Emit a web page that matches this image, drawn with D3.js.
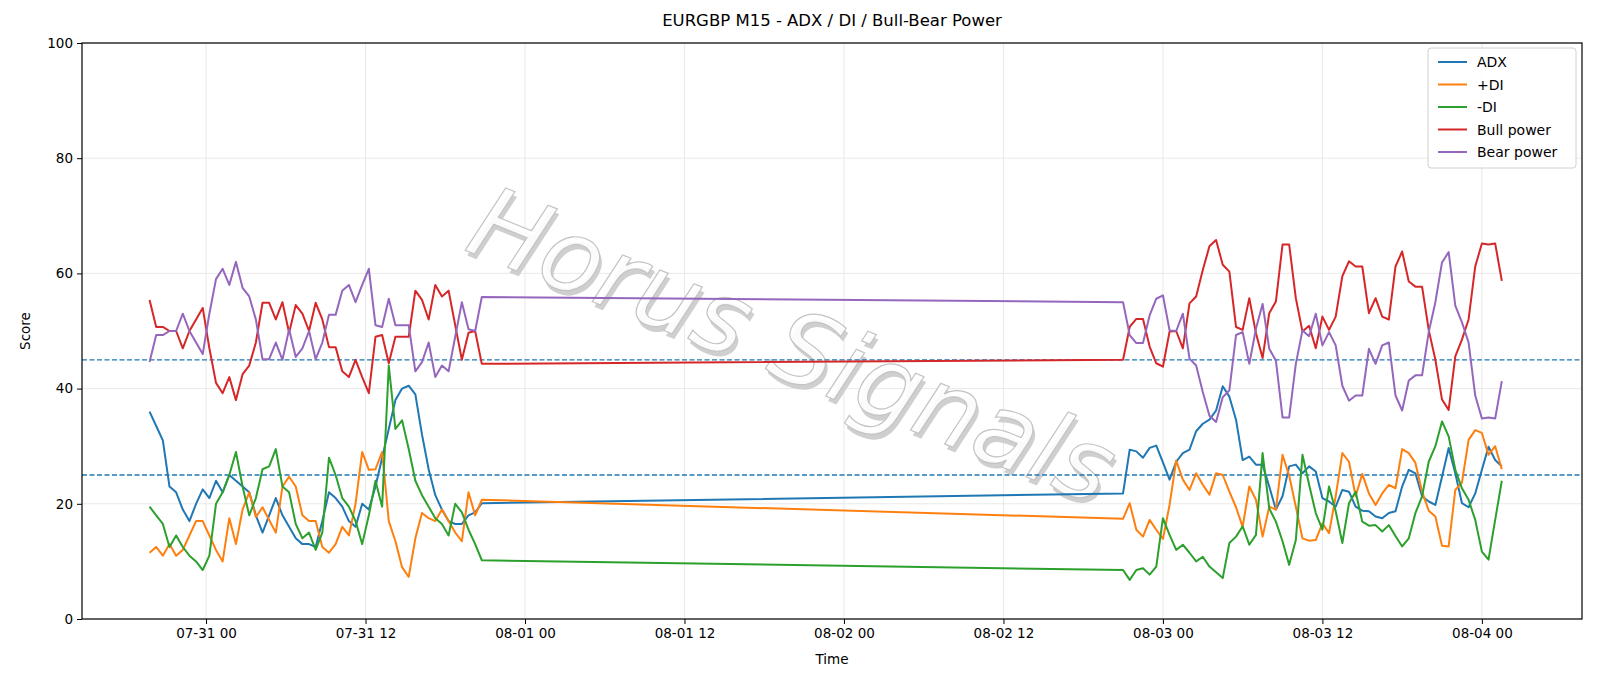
<!DOCTYPE html>
<html><head><meta charset="utf-8">
<script src="https://cdn.jsdelivr.net/npm/d3@7"></script>
<style>body{margin:0;background:#fff}svg{font-family:"DejaVu Sans",sans-serif}</style>
</head><body>
<svg id="c" width="1600" height="686"></svg>
<script>
const seriesNames = ["ADX","+DI","-DI","Bull power","Bear power"];
const colors = ["#1f77b4","#ff7f0e","#2ca02c","#d62728","#9467bd"];
const seg1Start = "2025-07-30T19:45:00Z";
const seg2Start = "2025-08-02T21:00:00Z";
const stepMinutes = 30;
const yTicks = [0,20,40,60,80,100];
const xTickLabels = ["07-31 00","07-31 12","08-01 00","08-01 12","08-02 00","08-02 12","08-03 00","08-03 12","08-04 00"];
const thresholds = [45,25];

const adx1 = [36,33.5,31,23,22,19,17,20,22.5,21,24,22,25,24,23,22,18,15,18,21,18,16,14,13,13,12.5,17,22,21,19.5,17,16,20,19,23,28,33,38,40,40.5,39,32,26,21.5,19,17,16.5,16.5,18,18.5,20.1];
const pdi1 = [11.5,12.5,11,13,11,12,14.5,17,17,14.5,12,10,17.5,13,19,22,17.7,19.4,17.2,15,23,24.7,23,18,17,17,12.5,11.5,13,16,14.5,20,29,25.9,26,29,17,13.5,9,7.3,14,18.4,17.5,17,19,17,15,13.5,22,18,20.7];
const mdi1 = [19.5,18,16.5,12.5,14.5,12.5,11,10,8.5,11,20,22,25,29,23,18,21,26,26.5,29.5,23,22,16.5,14,15,12,15,28,25,21,19.5,17,13,18,24,19.5,44,33,34.5,29.5,24,21.5,19.5,17.5,16.5,14.5,20,18.5,15.5,13,10.2];
const bull1 = [55.4,50.7,50.7,50,50,47,50,52,54,47,41,39.2,42,38,42.5,44,48,54.9,54.9,52,55,49.7,54.5,53,50,54.9,52,47.2,47.2,43,42,45,42,39.2,49,49.3,44.4,49,49,49,57,55.4,52,58,56,57,51,45,49.7,50,44.3];
const bear1 = [44.6,49.3,49.3,50,50,53,50,48,46,53,59,60.8,58,62,57.5,56,52,45.1,45.1,48,45,50.3,45.5,47,50,45.1,48,52.8,52.8,57,58,55,58,60.8,51,50.7,55.6,51,51,51,43,44.6,48,42,44,43,49,55,50.3,50,55.9];

const adx2 = [21.8,29.4,29.1,28,29.7,30.1,27.2,24.2,27.3,28.8,29.4,32.6,33.9,34.6,36.2,40.4,38.6,34.6,27.6,28.2,26.8,26.8,23,19,21.3,26.5,26.8,25.3,26.5,25.6,21,20.4,19.5,22.4,22.1,19.5,18.8,18.7,17.8,17.5,18.4,18.7,23,25.9,25.3,21.3,20.4,19.8,24.7,29.7,25.3,20.1,19.4,21.8,25.9,29.9,27.6,26.5];
const pdi2 = [17.4,20.1,15.5,14.3,17.2,15.5,13.9,19.8,27.5,24.2,22.4,25.3,23.3,21.6,25.3,25,22.1,19.4,16,23,20.7,14.3,19.5,19,28.5,24.9,19.5,14,13.6,13.7,16.6,14.9,21.3,28.8,27.3,21.3,25.2,21.8,19.8,21.8,23.3,22.7,29.5,28.8,27.1,22.1,18.8,17.8,12.7,12.6,22.4,23.7,31.1,32.8,32.3,28.5,30,26];
const mdi2 = [8.5,6.8,8.5,8.8,7.7,9.1,17.5,14.6,12,12.9,11.5,10,10.8,9.1,8.1,7.1,13.2,14.3,16.1,12.9,14.6,28.8,19.2,16.9,13.5,9.4,13.7,28.5,23.3,18.4,15.5,23,18.7,13.2,20.1,22.1,16.9,16.2,16.3,15.2,16.3,14.4,12.6,14,18.4,21.3,27.3,30,34.3,31.7,25.9,22.7,20.7,17.2,11.7,10.3,17.2,24];
const bull2 = [45,50.7,52.1,52.1,47.3,44.4,43.8,49.9,50,47,54.8,56,60.6,64.7,65.8,61.5,60.3,50.7,50.2,55.7,49.6,45.3,53.1,55.1,65,65,55.7,49.9,50.9,47,52.5,50.2,52.5,59.5,62.1,61.2,61.2,53.1,55.7,52.5,52,61.2,63.8,58.6,57.7,57.7,50.2,45,38.1,36.3,45.6,48.5,52,61.2,65.2,65,65.2,58.7];
const bear2 = [55,49.3,47.9,47.9,52.7,55.6,56.2,50.1,50,53,45.2,44,39.4,35.3,34.2,38.5,39.7,49.3,49.8,44.3,50.4,54.7,46.9,44.9,35,35,44.3,50.1,49.1,53,47.5,49.8,47.5,40.5,37.9,38.8,38.8,46.9,44.3,47.5,48,38.8,36.2,41.4,42.3,42.3,49.8,55,61.9,63.7,54.4,51.5,48,38.8,34.8,35,34.8,41.3];

const seg1 = [adx1,pdi1,mdi1,bull1,bear1];
const seg2 = [adx2,pdi2,mdi2,bull2,bear2];

const svg = d3.select("#c");
const L=82,R=1582,T=43,B=619;
const x = d3.scaleUtc().domain([new Date("2025-07-30T14:40:00Z"), new Date("2025-08-04T07:32:00Z")]).range([L,R]);
const y = d3.scaleLinear().domain([0,100]).range([B,T]);
const times = (start,n)=>d3.range(n).map(i=>new Date(+new Date(start)+i*stepMinutes*60000));
const t1 = times(seg1Start, adx1.length), t2 = times(seg2Start, adx2.length);
const xTicks = xTickLabels.map(s=>new Date("2025-"+s.slice(0,5)+"T"+s.slice(6)+":00:00Z"));

svg.append("g").selectAll("line").data(xTicks).join("line")
  .attr("x1",d=>x(d)).attr("x2",d=>x(d)).attr("y1",T).attr("y2",B).attr("stroke","#e6e6e6").attr("stroke-width",0.9);
svg.append("g").selectAll("line").data(yTicks).join("line")
  .attr("x1",L).attr("x2",R).attr("y1",d=>y(d)).attr("y2",d=>y(d)).attr("stroke","#e6e6e6").attr("stroke-width",0.9);

// watermark
const wm = svg.append("g").attr("transform","translate(790,352) rotate(22)");
wm.append("text").attr("x",4).attr("y",4).attr("text-anchor","middle").attr("dominant-baseline","middle")
  .attr("font-size",100).attr("font-style","italic").attr("fill","#cfcfcf").text("Horus Signals");
wm.append("text").attr("text-anchor","middle").attr("dominant-baseline","middle")
  .attr("font-size",100).attr("font-style","italic").attr("fill","#ffffff").attr("fill-opacity",0.9)
  .attr("stroke","#c4c4c4").attr("stroke-width",1.2).text("Horus Signals");

svg.append("g").selectAll("line").data(thresholds).join("line")
  .attr("x1",L).attr("x2",R).attr("y1",d=>y(d)).attr("y2",d=>y(d))
  .attr("stroke","#1f77b4").attr("stroke-width",1.3).attr("stroke-dasharray","5,2.5");

const line = d3.line().x(d=>x(d[0])).y(d=>y(d[1]));
seriesNames.forEach((n,k)=>{
  const pts = t1.map((t,i)=>[t,seg1[k][i]]).concat(t2.map((t,i)=>[t,seg2[k][i]]));
  svg.append("path").attr("d",line(pts)).attr("fill","none").attr("stroke",colors[k]).attr("stroke-width",2).attr("stroke-linejoin","round");
});

svg.append("rect").attr("x",L).attr("y",T).attr("width",R-L).attr("height",B-T).attr("fill","none").attr("stroke","#000").attr("stroke-width",1.2);

const xa = svg.append("g").attr("transform",`translate(0,${B})`).call(d3.axisBottom(x).tickValues(xTicks).tickFormat((d,i)=>xTickLabels[i]).tickSize(5).tickPadding(4));
const ya = svg.append("g").attr("transform",`translate(${L},0)`).call(d3.axisLeft(y).tickValues(yTicks).tickSize(5).tickPadding(4));
[xa,ya].forEach(a=>{a.select(".domain").remove();a.selectAll("text").attr("font-size",13.5).attr("fill","#000").attr("font-family","DejaVu Sans");a.selectAll("line").attr("stroke","#000");});

svg.append("text").attr("x",(L+R)/2).attr("y",26).attr("text-anchor","middle").attr("font-size",16.5).text("EURGBP M15 - ADX / DI / Bull-Bear Power");
svg.append("text").attr("x",(L+R)/2).attr("y",664).attr("text-anchor","middle").attr("font-size",13.5).text("Time");
svg.append("text").attr("transform",`translate(30,${(T+B)/2}) rotate(-90)`).attr("text-anchor","middle").attr("font-size",13.5).text("Score");

const lg = svg.append("g");
lg.append("rect").attr("x",1428).attr("y",48).attr("width",148).attr("height",120).attr("rx",3).attr("fill","#fff").attr("fill-opacity",0.85).attr("stroke","#d0d0d0");
seriesNames.forEach((n,k)=>{
  const yy = 62+k*22.5;
  lg.append("line").attr("x1",1438).attr("x2",1467).attr("y1",yy).attr("y2",yy).attr("stroke",colors[k]).attr("stroke-width",2);
  lg.append("text").attr("x",1477).attr("y",yy+5).attr("font-size",14).text(n);
});
</script>
</body></html>
